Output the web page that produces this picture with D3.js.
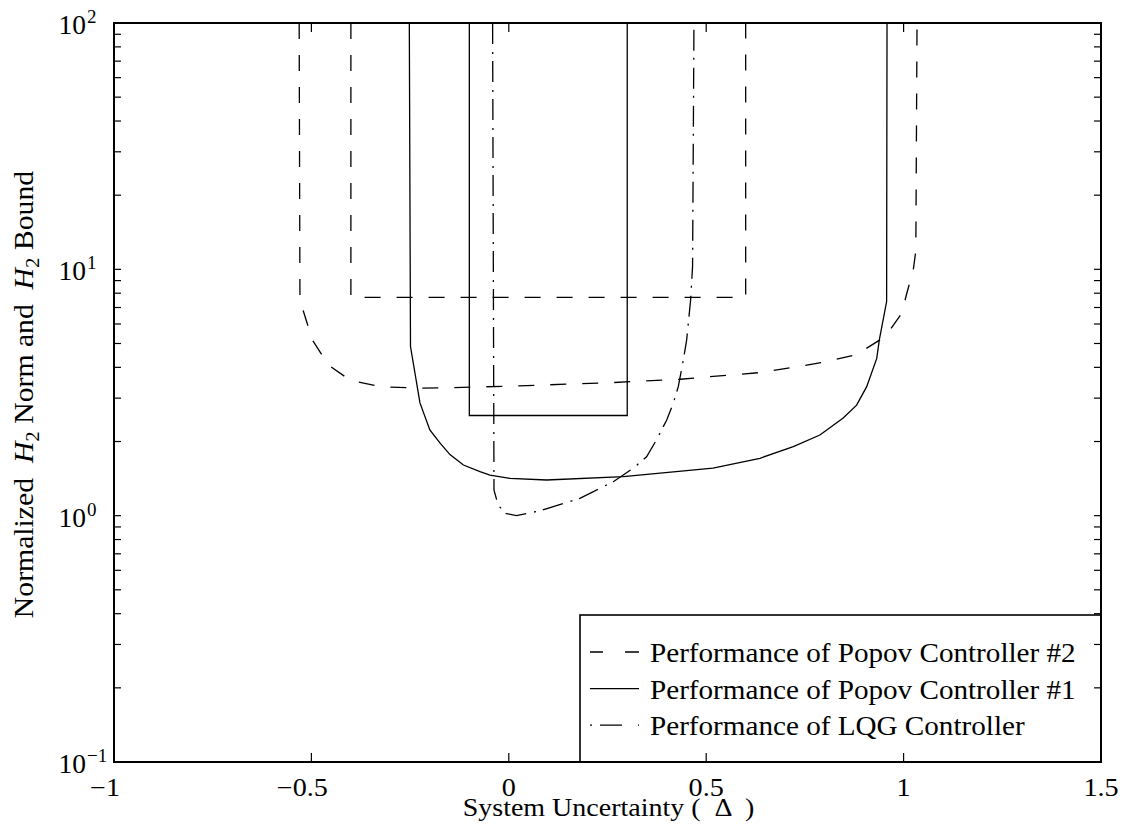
<!DOCTYPE html>
<html>
<head>
<meta charset="utf-8">
<script src="https://cdn.jsdelivr.net/npm/d3@7"></script>
<style>
  body { margin: 0; background: #fff; }
  text { font-family: "Liberation Serif", "Times New Roman", serif; fill: #000; }
</style>
</head>
<body>
<div id="chart"></div>
<script>
// Performance of Popov Controller #2 (dashed)
var popov2Delta = [-0.531, -0.529, -0.4977, -0.457, -0.402, -0.326, -0.225, -0.14, 0.0114, 0.2647, 0.4336, 0.636, 0.7206, 0.805, 0.881, 0.94, 0.9655, 0.995, 1.008, 1.0245, 1.031, 1.034];
var popov2Norm  = [100, 7.5, 5.17, 4.09, 3.55, 3.34, 3.29, 3.31, 3.36, 3.47, 3.58, 3.81, 4.0, 4.22, 4.51, 5.17, 5.67, 6.62, 7.98, 9.95, 11.9, 100];
var popov2BoundDelta = [-0.4, -0.4, 0.6, 0.6];
var popov2BoundNorm  = [100, 7.7, 7.7, 100];

// Performance of Popov Controller #1 (solid)
var popov1Delta = [-0.252, -0.249, -0.225, -0.2, -0.174, -0.149, -0.115, -0.073, -0.0476, 0.003, 0.096, 0.29, 0.517, 0.636, 0.7206, 0.788, 0.847, 0.881, 0.9065, 0.932, 0.9385, 0.957, 0.958];
var popov1Norm  = [100, 4.86, 2.87, 2.23, 1.97, 1.77, 1.606, 1.51, 1.46, 1.418, 1.396, 1.44, 1.56, 1.71, 1.907, 2.125, 2.49, 2.81, 3.34, 4.35, 5.17, 7.4, 100];
var popov1BoundDelta = [-0.1, -0.1, 0.3, 0.3];
var popov1BoundNorm  = [100, 2.55, 2.55, 100];

// Performance of LQG Controller (dash-dot)
var lqgDelta = [-0.041, -0.0375, -0.027, -0.0096, 0.0195, 0.079, 0.1127, 0.18, 0.2647, 0.315, 0.349, 0.374, 0.4, 0.4166, 0.4293, 0.442, 0.4505, 0.4605, 0.4655, 0.469];
var lqgNorm  = [100, 1.27, 1.105, 1.022, 1.0, 1.047, 1.087, 1.176, 1.374, 1.557, 1.735, 2.03, 2.445, 2.86, 3.34, 4.28, 5.17, 7.5, 10.3, 100];

var xTicks = [-1, -0.5, 0, 0.5, 1, 1.5];
var xTickLabels = ["\u22121", "\u22120.5", "0", "0.5", "1", "1.5"];
var yTicks = [0.1, 1, 10, 100];
var yTickExp = ["\u22121", "0", "1", "2"];
var legendLabels = ["Performance of Popov Controller #2", "Performance of Popov Controller #1", "Performance of LQG Controller"];

var width = 1126, height = 834;
var mLeft = 114, mRight = 1101, mTop = 23, mBottom = 762;

var svg = d3.select("#chart").append("svg")
  .attr("width", width)
  .attr("height", height);

var x = d3.scaleLinear().domain([-1, 1.5]).range([mLeft, mRight]);
var y = d3.scaleLog().domain([0.1, 100]).range([mBottom, mTop]);

var line = d3.line()
  .x(function(d) { return x(d[0]); })
  .y(function(d) { return y(d[1]); });

function pairs(xs, ys) {
  return xs.map(function(v, i) { return [v, ys[i]]; });
}

// text placed with a slight horizontal stretch (the original font runs wide)
function stretchedText(px, py, sx, size) {
  return svg.append("text")
    .attr("transform", "translate(" + px + "," + py + ") scale(" + sx + ",1)")
    .attr("font-size", size);
}

var dashed = "16,16";
var dashdot = "21,8,2,7";

// Draw curves
var series = [
  {pts: pairs(popov2Delta, popov2Norm), dash: dashed},
  {pts: pairs(popov2BoundDelta, popov2BoundNorm), dash: dashed},
  {pts: pairs(popov1Delta, popov1Norm), dash: null},
  {pts: pairs(popov1BoundDelta, popov1BoundNorm), dash: null},
  {pts: pairs(lqgDelta, lqgNorm), dash: dashdot}
];

svg.selectAll(".curve")
  .data(series)
  .enter()
  .append("path")
  .attr("class", "curve")
  .attr("d", function(d) { return line(d.pts); })
  .attr("fill", "none")
  .attr("stroke", "#000")
  .attr("stroke-width", 1.3)
  .attr("stroke-dasharray", function(d) { return d.dash; });

// Legend (drawn before axes so ticks sit on top)
svg.append("rect")
  .attr("x", 580)
  .attr("y", 615)
  .attr("width", mRight - 580)
  .attr("height", mBottom - 615)
  .attr("fill", "#fff")
  .attr("stroke", "#000")
  .attr("stroke-width", 1.6);

var legendDash = ["13,22,14", null, "2,8,22,16,2"];
legendLabels.forEach(function(lbl, i) {
  var by = 662 + i * 36.6;
  svg.append("line")
    .attr("x1", 590).attr("x2", 639)
    .attr("y1", by - 10).attr("y2", by - 10)
    .attr("stroke", "#000")
    .attr("stroke-width", 1.3)
    .attr("stroke-dasharray", legendDash[i]);
  stretchedText(650, by, 1.1, 26.5).text(lbl);
});

// Axes frame
svg.append("rect")
  .attr("x", mLeft).attr("y", mTop)
  .attr("width", mRight - mLeft).attr("height", mBottom - mTop)
  .attr("fill", "none")
  .attr("stroke", "#000")
  .attr("stroke-width", 2);

// X ticks (bottom and top, inward)
xTicks.forEach(function(t, i) {
  var px = x(t);
  svg.append("line").attr("x1", px).attr("x2", px).attr("y1", mBottom).attr("y2", mBottom - 9)
    .attr("stroke", "#000").attr("stroke-width", 1.2);
  svg.append("line").attr("x1", px).attr("x2", px).attr("y1", mTop).attr("y2", mTop + 9)
    .attr("stroke", "#000").attr("stroke-width", 1.2);
  stretchedText(px + (t < 0 ? -9 : 0), 796, 1.15, 24.5)
    .attr("text-anchor", "middle")
    .text(xTickLabels[i]);
});

// Y ticks: major + minor, left and right
var minor = [];
for (var e = -1; e < 2; e++) {
  for (var m = 2; m <= 9; m++) minor.push(m * Math.pow(10, e));
}
yTicks.concat(minor).forEach(function(t) {
  var py = y(t);
  svg.append("line").attr("x1", mLeft).attr("x2", mLeft + 7).attr("y1", py).attr("y2", py)
    .attr("stroke", "#000").attr("stroke-width", 1.2);
  svg.append("line").attr("x1", mRight).attr("x2", mRight - 7).attr("y1", py).attr("y2", py)
    .attr("stroke", "#000").attr("stroke-width", 1.2);
});

yTicks.forEach(function(t, i) {
  var py = y(t);
  svg.append("text")
    .attr("x", 86)
    .attr("y", py + 11)
    .attr("text-anchor", "end")
    .attr("font-size", 27.5)
    .text("10");
  svg.append("text")
    .attr("x", 87)
    .attr("y", py)
    .attr("font-size", 19)
    .text(yTickExp[i]);
});

// Axis labels
stretchedText((mLeft + mRight) / 2 + 1, 816, 1.12, 25)
  .attr("text-anchor", "middle")
  .style("white-space", "pre")
  .text("System Uncertainty (  \u0394  )");

var yl = svg.append("text")
  .attr("transform", "translate(33," + ((mTop + mBottom) / 2 + 2) + ") rotate(-90) scale(1.1,1)")
  .attr("text-anchor", "middle")
  .attr("font-size", 27)
  .style("white-space", "pre");
yl.append("tspan").text("Normalized  ");
yl.append("tspan").attr("font-style", "italic").text("H");
yl.append("tspan").attr("font-size", 19).attr("dy", 6).text("2");
yl.append("tspan").attr("dy", -6).text(" Norm and  ");
yl.append("tspan").attr("font-style", "italic").text("H");
yl.append("tspan").attr("font-size", 19).attr("dy", 6).text("2");
yl.append("tspan").attr("dy", -6).text(" Bound");
</script>
</body>
</html>
